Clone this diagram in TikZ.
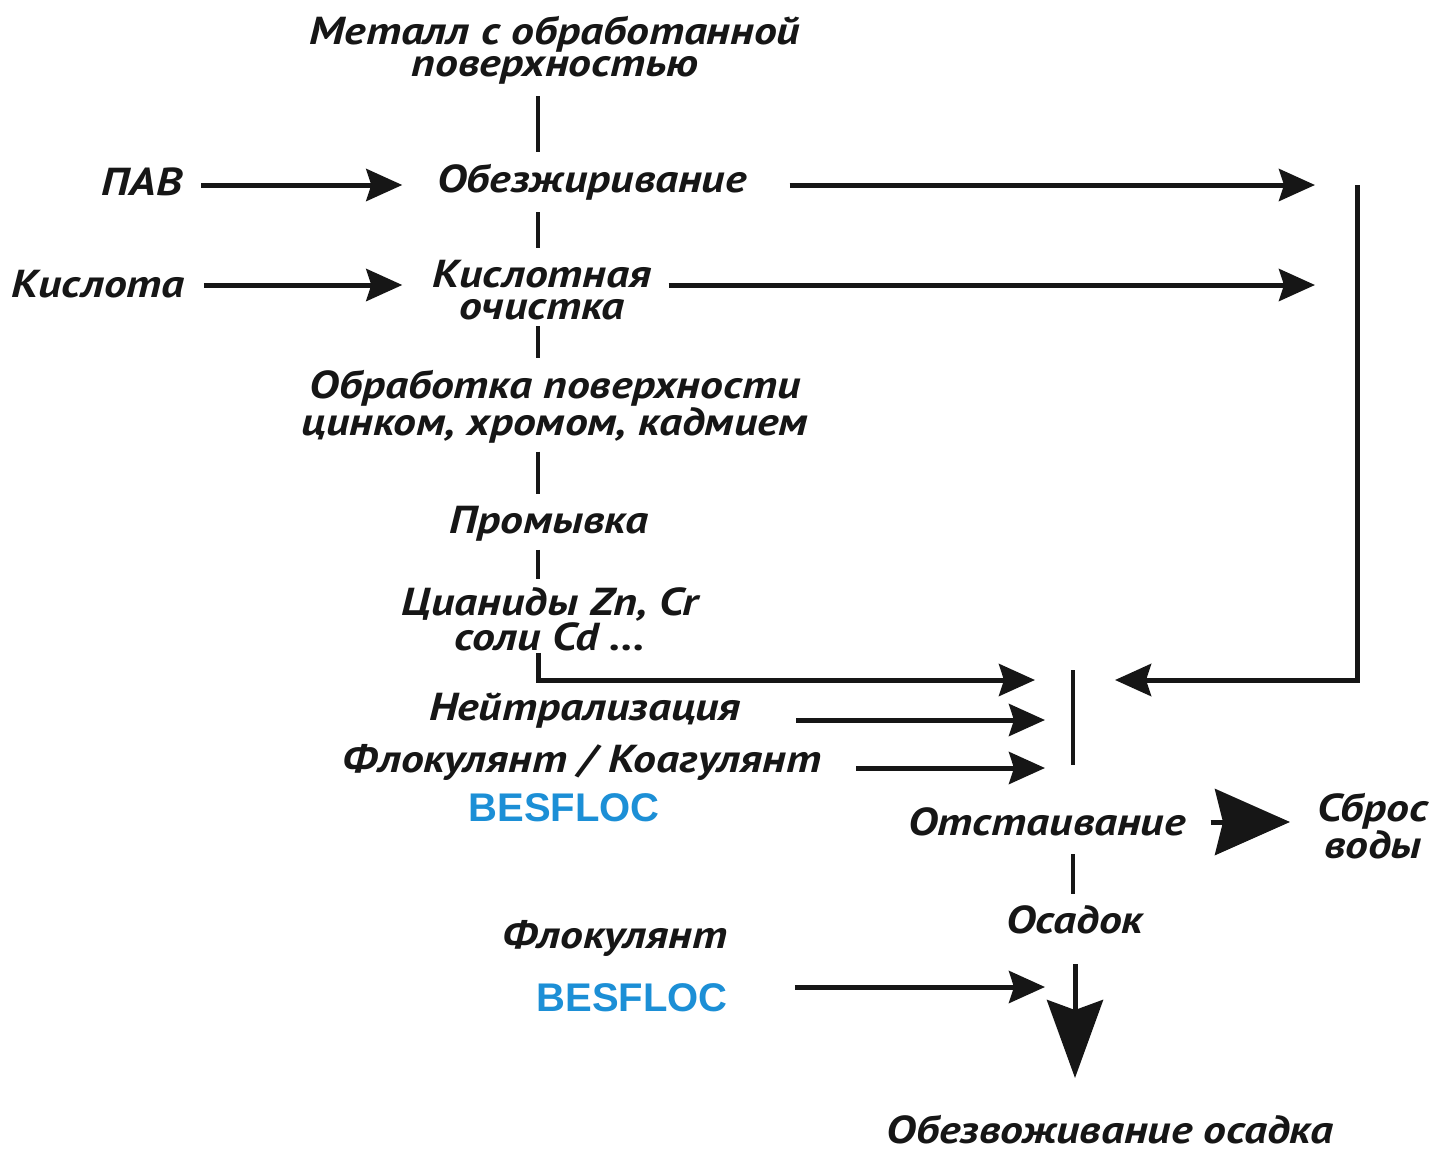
\documentclass[tikz,border=0pt]{standalone}
\usepackage{fontspec}
\setmainfont{PT Sans}
\newfontfamily\diafont[FakeStretch=1.17]{PT Sans}
\newfontfamily\besfont{Liberation Sans}
\usetikzlibrary{arrows.meta}
\definecolor{besblue}{RGB}{28,143,214}
\definecolor{ink}{RGB}{22,22,22}
\begin{document}
\begin{tikzpicture}[x=1pt,y=-1pt,
  txt/.style={font=\diafont\bfseries\itshape\fontsize{39}{32}\selectfont, inner sep=0pt, align=center, text=ink},
  bes/.style={font=\besfont\bfseries\fontsize{40}{40}\selectfont, inner sep=0pt, text=besblue},
  conn/.style={draw=ink, line width=4.5pt},
  arr/.style={draw=ink, line width=5pt, -{Stealth[length=36pt,width=32pt,inset=5pt]}},
  bigarr/.style={draw=ink, line width=5pt, -{Stealth[length=75pt,width=66pt,inset=8pt]}},
  tallarr/.style={draw=ink, line width=5pt, -{Stealth[length=78pt,width=56pt,inset=10pt]}}
]
\useasboundingbox (0,0) rectangle (1441,1154);
\fill[white] (0,0) rectangle (1441,1154);

% text nodes
\node[txt] (metal) at (555,50) {Металл с обработанной\\поверхностью};
\node[txt] (pav) at (142,182) {ПАВ};
\node[txt] (obez) at (592,182) {Обезжиривание};
\node[txt] (kisl) at (98,284) {Кислота};
\node[txt] (koch) at (542,290) {Кислотная\\очистка};
\node[txt] (obrab) at (555,407) {Обработка поверхности\\цинком, хромом, кадмием};
\node[txt] (prom) at (549,524) {Промывка};
\node[txt] (cian) at (550,619) {Цианиды Zn, Cr\\соли Cd ...};
\node[txt] (neut) at (585,711) {Нейтрализация};
\node[txt] (flk) at (582,762) {Флокулянт / Коагулянт};
\node[bes] (bes1) at (564,808) {BESFLOC};
\node[txt] (otst) at (1047,822) {Отстаивание};
\node[txt] (sbros) at (1373,826) {Сброс\\воды};
\node[txt] (osad) at (1075,920) {Осадок};
\node[txt] (flk2) at (615,938) {Флокулянт};
\node[bes] (bes2) at (632,998) {BESFLOC};
\node[txt] (obezv) at (1110,1130) {Обезвоживание осадка};

% helper coordinates
\coordinate (sp) at (538,0);
\coordinate (out1) at (1315,185);
\coordinate (out2) at (1315,285);
\coordinate (rtop) at (1357,185);
\coordinate (in1) at (1035,680);
\coordinate (in2) at (1045,720);
\coordinate (in3) at (1045,768);
\coordinate (in4) at (1115,680);
\coordinate (bart) at (1073,670);
\coordinate (barb) at (1073,765);
\coordinate (in5) at (1045,987);
\coordinate (tip) at (1075,1078);
\coordinate (sbtip) at (1290,822);

% spine
\draw[conn] ([yshift=-12pt]metal.south -| sp) -- ([yshift=12pt]obez.north -| sp);
\draw[conn] ([yshift=-12pt]obez.south -| sp) -- ([yshift=12pt]koch.north -| sp);
\draw[conn] ([yshift=-6pt]koch.south -| sp) -- ([yshift=12pt]obrab.north -| sp);
\draw[conn] ([yshift=-8pt]obrab.south -| sp) -- ([yshift=12pt]prom.north -| sp);
\draw[conn] ([yshift=-8pt]prom.south -| sp) -- ([yshift=8pt]cian.north -| sp);
\draw[arr] ([yshift=-2pt]cian.south -| sp) |- (in1);

% inputs
\draw[arr] ([xshift=19pt]pav.east |- out1) -- ([xshift=-35pt]obez.west |- out1);
\draw[arr] ([xshift=19pt]kisl.east |- out2) -- ([xshift=-30pt]koch.west |- out2);

% outputs to the right loop
\draw[arr] ([xshift=43pt]obez.east |- out1) -- (out1);
\draw[arr] ([xshift=17pt]koch.east |- out2) -- (out2);
\draw[arr] (rtop) |- (in4);

% settling tank bar
\draw[conn] (bart) -- (barb);
\draw[arr] ([xshift=55pt]neut.east |- in2) -- (in2);
\draw[arr] ([xshift=35pt]flk.east |- in3) -- (in3);

% settling
\draw[conn] ([yshift=-18pt]otst.south -| bart) -- ([yshift=12pt]osad.north -| bart);
\draw[bigarr] ([xshift=25pt]otst.east) -- (sbtip);

% sludge
\draw[tallarr] ([yshift=-30pt]osad.south -| tip) -- (tip);
\draw[arr] ([xshift=67pt]bes2.east |- in5) -- (in5);
\end{tikzpicture}
\end{document}
